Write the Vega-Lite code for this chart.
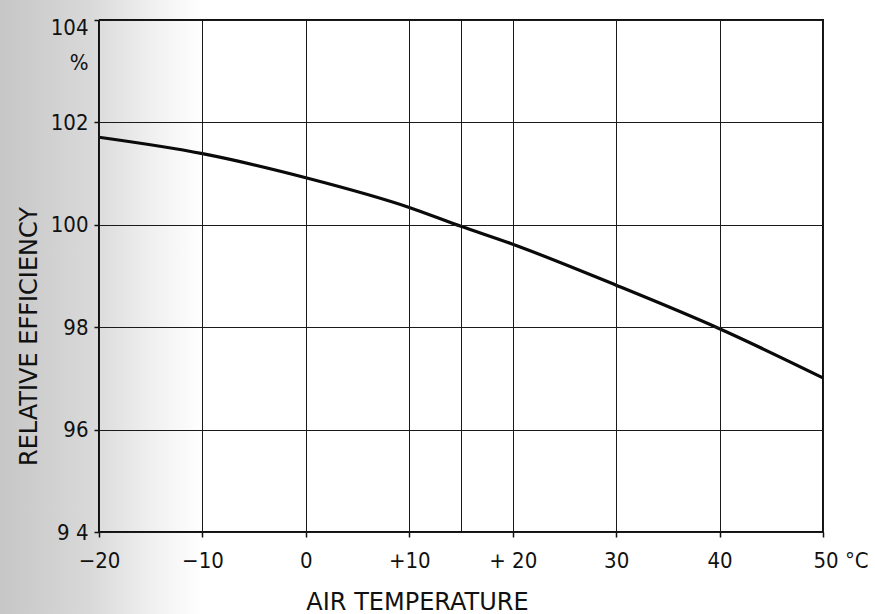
{
  "$schema": "https://vega.github.io/schema/vega-lite/v6.json",
  "width": 724,
  "height": 512,
  "autosize": {"type": "none"},
  "padding": {"left": 99, "top": 20, "right": 52, "bottom": 82},
  "background": "#ffffff",
  "config": {
    "view": {"stroke": "#111111", "strokeWidth": 2},
    "font": "DejaVu Sans Condensed",
    "axis": {
      "domain": false,
      "grid": true,
      "gridColor": "#1a1a1a",
      "gridWidth": 1,
      "gridOpacity": 1,
      "ticks": true,
      "tickColor": "#111111",
      "tickWidth": 1.5,
      "tickSize": 5,
      "labelFont": "DejaVu Sans Condensed",
      "labelFontSize": 22,
      "labelColor": "#111111",
      "titleFont": "DejaVu Sans",
      "titleFontSize": 24,
      "titleFontWeight": "normal",
      "titleColor": "#111111"
    }
  },
  "data": {
    "values": [
      {"temp": -20, "eff": 101.71},
      {"temp": -10, "eff": 101.39},
      {"temp": 0, "eff": 100.92},
      {"temp": 10, "eff": 100.34},
      {"temp": 15, "eff": 99.97},
      {"temp": 20, "eff": 99.62},
      {"temp": 30, "eff": 98.82},
      {"temp": 40, "eff": 97.97},
      {"temp": 50, "eff": 97.01}
    ]
  },
  "layer": [
    {
      "mark": {
        "type": "rect",
        "clip": false,
        "fill": {
          "gradient": "linear",
          "x1": 0, "y1": 0, "x2": 1, "y2": 0,
          "stops": [
            {"offset": 0, "color": "#c6c6c6"},
            {"offset": 0.45, "color": "#d9d9d9"},
            {"offset": 0.75, "color": "#f0f0f0"},
            {"offset": 1, "color": "#ffffff"}
          ]
        }
      },
      "encoding": {
        "x": {"datum": -29.6, "type": "quantitative", "scale": {"domain": [-20, 50], "nice": false, "zero": false}},
        "x2": {"datum": -10},
        "y": {"datum": 92.4, "type": "quantitative", "scale": {"domain": [94, 104], "nice": false, "zero": false}},
        "y2": {"datum": 104.4}
      }
    },
    {
      "mark": {"type": "rule", "color": "#1a1a1a", "strokeWidth": 1, "xOffset": 0.5},
      "encoding": {"x": {"datum": 15, "type": "quantitative"}}
    },
    {
      "mark": {"type": "rule", "color": "#111111", "strokeWidth": 2},
      "encoding": {"x": {"datum": -20, "type": "quantitative"}}
    },
    {
      "mark": {"type": "rule", "color": "#111111", "strokeWidth": 2},
      "encoding": {"y": {"datum": 94, "type": "quantitative"}}
    },
    {
      "mark": {"type": "rule", "color": "#111111", "strokeWidth": 2},
      "encoding": {"y": {"datum": 104, "type": "quantitative"}}
    },
    {
      "mark": {"type": "line", "color": "#0a0a0a", "strokeWidth": 3.2, "interpolate": "monotone"},
      "encoding": {
        "x": {
          "field": "temp",
          "type": "quantitative",
          "axis": {
            "zindex": 1,
            "values": [-20, -10, 0, 10, 20, 30, 40, 50],
            "labelExpr": "datum.value == -20 ? '−20' : datum.value == -10 ? '−10' : datum.value == 10 ? '+10' : datum.value == 20 ? '+ 20' : datum.value == 50 ? '50 °C' : datum.label",
            "labelAlign": {"condition": {"test": "datum.value == 50", "value": "left"}, "value": "center"},
            "labelOffset": {"condition": {"test": "datum.value == 50", "value": -10}, "value": 0},
            "labelPadding": 13,
            "labelFlush": false,
            "title": "AIR TEMPERATURE",
            "titleX": 318,
            "titleY": 77,
            "titleAnchor": null,
            "titleAlign": "center",
            "titleBaseline": "alphabetic"
          }
        },
        "y": {
          "field": "eff",
          "type": "quantitative",
          "axis": {
            "zindex": 1,
            "values": [94, 96, 98, 100, 102, 104],
            "labelExpr": "datum.value == 104 ? ['104', '%'] : datum.value == 94 ? '9 4' : datum.label",
            "labelLineHeight": 35,
            "labelOffset": {"condition": {"test": "datum.value == 104", "value": 7}, "value": 0},
            "labelPadding": 6,
            "labelFlush": false,
            "title": "RELATIVE EFFICIENCY",
            "titleX": -70,
            "titleY": 316,
            "titleAngle": -90,
            "titleAnchor": null,
            "titleAlign": "center",
            "titleBaseline": "middle"
          }
        }
      }
    }
  ]
}
